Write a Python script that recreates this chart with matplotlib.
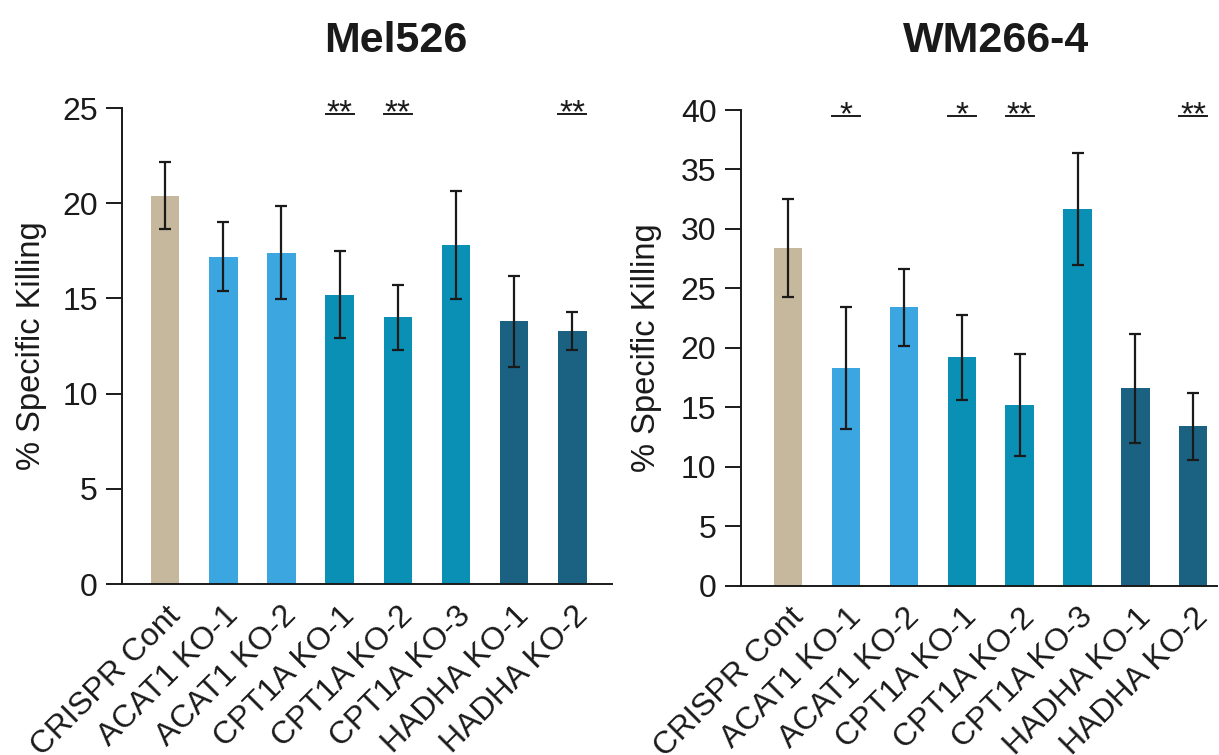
import matplotlib
matplotlib.use("Agg")
import matplotlib.pyplot as plt
import matplotlib.transforms as mtransforms
import numpy as np

plt.rcParams['font.family'] = ['Liberation Sans', 'DejaVu Sans']

categories = ["CRISPR Cont", "ACAT1 KO-1", "ACAT1 KO-2", "CPT1A KO-1",
              "CPT1A KO-2", "CPT1A KO-3", "HADHA KO-1", "HADHA KO-2"]

mel526_mean = [20.4, 17.2, 17.4, 15.2, 14.0, 17.8, 13.8, 13.3]
mel526_err = [1.75, 1.8, 2.45, 2.3, 1.7, 2.85, 2.4, 1.0]
mel526_sig = ["", "", "", "**", "**", "", "", "**"]

wm266_mean = [28.4, 18.3, 23.4, 19.2, 15.2, 31.7, 16.6, 13.4]
wm266_err = [4.1, 5.1, 3.25, 3.6, 4.3, 4.7, 4.6, 2.8]
wm266_sig = ["", "*", "", "*", "**", "", "", "**"]

bar_colors = ["#C6B89C", "#3BA6DF", "#3BA6DF", "#0A8FB5",
              "#0A8FB5", "#0A8FB5", "#1B6282", "#1B6282"]

fig = plt.figure(figsize=(12.19, 7.55), dpi=100)

panels = [
    dict(title="Mel526", mean=mel526_mean, err=mel526_err, sig=mel526_sig,
         rect=[122/1219, 171/755, 490/1219, 476/755], ylim=25, step=5,
         xlim=(-0.74, 7.68), title_x=395.5/1219, ylab_x=-0.153),
    dict(title="WM266-4", mean=wm266_mean, err=wm266_err, sig=wm266_sig,
         rect=[740.7/1219, 169.3/755, 476.3/1219, 475.7/755], ylim=40, step=5,
         xlim=(-0.82, 7.41), title_x=996/1219, ylab_x=-0.165),
]

TXT = "#1a1a1a"
for p in panels:
    ax = fig.add_axes(p["rect"])
    x = np.arange(len(categories))
    ax.bar(x, p["mean"], width=0.49, color=bar_colors, zorder=2)
    ax.errorbar(x, p["mean"], yerr=p["err"], fmt="none", ecolor=TXT,
                elinewidth=1.6, capsize=4.5, capthick=1.6, zorder=3)
    ax.set_xlim(*p["xlim"])
    ax.set_ylim(0, p["ylim"])
    ax.set_yticks(np.arange(0, p["ylim"] + 0.1, p["step"]))
    for s in ["top", "right"]:
        ax.spines[s].set_visible(False)
    for s in ["left", "bottom"]:
        ax.spines[s].set_linewidth(1.4)
        ax.spines[s].set_color(TXT)
    ax.tick_params(axis="y", length=11.5, width=1.4, color=TXT,
                   labelsize=23, pad=6, labelcolor=TXT)
    ax.tick_params(axis="x", length=0, labelsize=23, pad=12, labelcolor=TXT)
    ax.set_xticks(x)
    ax.set_xticklabels(categories, rotation=45, ha="right", va="top",
                       rotation_mode="anchor")
    ax.set_ylabel("% Specific Killing", fontsize=23.5, color=TXT)
    ax.yaxis.set_label_coords(p["ylab_x"], 0.5)
    trans = mtransforms.blended_transform_factory(ax.transData, ax.transAxes)
    for xi, s in zip(x, p["sig"]):
        if s:
            ax.plot([xi - 0.24, xi + 0.24], [0.9868, 0.9868], transform=trans,
                    color=TXT, lw=1.4, clip_on=False)
            ax.text(xi, 0.9706, s, transform=trans, ha="center", va="baseline",
                    fontsize=24, color=TXT, clip_on=False)
    fig.text(p["title_x"], (755 - 52) / 755, p["title"], ha="center",
             va="baseline", fontsize=31, fontweight="bold", color=TXT)

fig.savefig("out.png", dpi=100)
